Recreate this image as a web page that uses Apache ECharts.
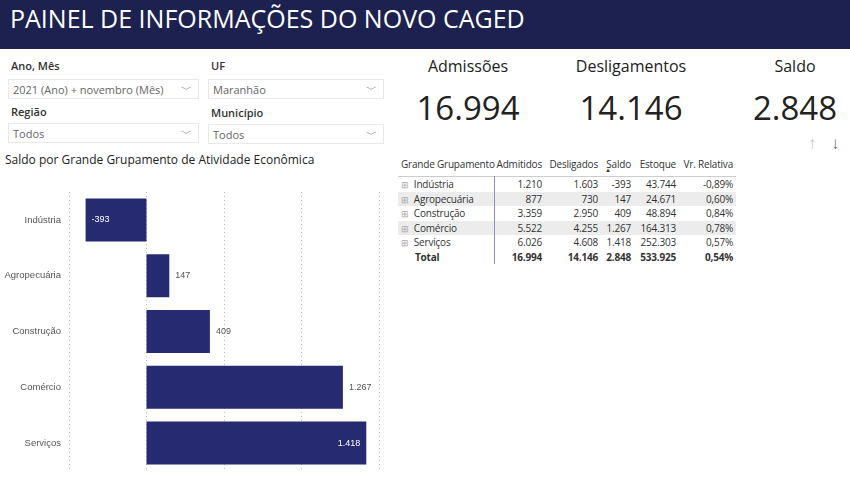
<!DOCTYPE html>
<html><head><meta charset="utf-8">
<script src="https://cdn.jsdelivr.net/npm/echarts@6/dist/echarts.min.js"></script>
<style>
body{margin:0;width:850px;height:487px;position:relative;background:#fff;font-family:"Open Sans","Noto Sans",sans-serif;overflow:hidden}
.a{position:absolute;white-space:nowrap}
#hdr{left:0;top:0;width:850px;height:49px;background:#1c2150;color:#fff;font-size:25px;line-height:36px;padding-left:10px;box-sizing:border-box}
.lbl{font-size:11px;font-weight:600;color:#333}
.box{height:20px;border:1px solid #e8e8e8;font-size:11px;color:#666;line-height:20px;padding-left:4px;box-sizing:border-box}
.box span{position:absolute;right:6px;top:-1px;color:#888}
.kt{font-size:16px;color:#222;transform:translateX(-50%)}
.kv{font-size:33px;color:#222;transform:translateX(-50%)}
table{border-collapse:collapse;table-layout:fixed;font-size:10px;color:#333;letter-spacing:-0.2px}
td{padding:0 3px 0 0;height:14.5px;text-align:right;overflow:visible;white-space:nowrap}
td:first-child{text-align:left;padding-left:3px}
</style></head><body>
<div id="hdr" class="a">PAINEL DE INFORMAÇÕES DO NOVO CAGED</div>
<div class="a lbl" style="left:11px;top:58px">Ano, Mês</div>
<div class="a box" style="left:8px;top:79px;width:191px">2021 (Ano) + novembro (Mês)<span>﹀</span></div>
<div class="a lbl" style="left:11px;top:104px">Região</div>
<div class="a box" style="left:8px;top:123px;width:191px">Todos<span>﹀</span></div>
<div class="a lbl" style="left:211px;top:58px">UF</div>
<div class="a box" style="left:208px;top:79px;width:176px">Maranhão<span>﹀</span></div>
<div class="a lbl" style="left:211px;top:105px">Município</div>
<div class="a box" style="left:208px;top:124px;width:176px">Todos<span>﹀</span></div>
<div class="a" style="left:5px;top:151px;font-size:12px;color:#222">Saldo por Grande Grupamento de Atividade Econômica</div>
<div class="a kt" style="left:468px;top:55px">Admissões</div>
<div class="a kt" style="left:631px;top:55px">Desligamentos</div>
<div class="a kt" style="left:795px;top:55px">Saldo</div>
<div class="a kv" style="left:468px;top:85px">16.994</div>
<div class="a kv" style="left:631px;top:85px">14.146</div>
<div class="a kv" style="left:795px;top:85px">2.848</div>
<div class="a" style="left:808px;top:131px;font-size:17px;color:#c8c8c8">↑</div>
<div class="a" style="left:831px;top:131px;font-size:17px;color:#777">↓</div>
<div class="a" style="left:398px;top:152px" id="tbl"></div>
<div id="c" class="a" style="left:0;top:160px;width:420px;height:327px"></div>
<script>
var categories=["Indústria","Agropecuária","Construção","Comércio","Serviços"];
var saldo=[-393,147,409,1267,1418];
var admitidos=["1.210","877","3.359","5.522","6.026"];
var desligados=["1.603","730","2.950","4.255","4.608"];
var saldoTxt=["-393","147","409","1.267","1.418"];
var estoque=["43.744","24.671","48.894","164.313","252.303"];
var vr=["-0,89%","0,60%","0,84%","0,78%","0,57%"];
var total=["16.994","14.146","2.848","533.925","0,54%"];
var w=[96,51,56,33,45,57];
var h='<table style="width:338px"><colgroup>'+w.map(function(x){return '<col style="width:'+x+'px">'}).join('')+'</colgroup>';
h+='<tr style="border-bottom:1px solid #ccc"><td style="height:24px">Grande Grupamento</td><td>Admitidos</td><td>Desligados</td><td style="position:relative">Saldo<span style="position:absolute;left:4px;top:14px;font-size:6px">▲</span></td><td>Estoque</td><td>Vr. Relativa</td></tr>';
for(var i=0;i<categories.length;i++){
 h+='<tr style="background:'+(i%2?'#ececec':'#fff')+'"><td style="border-right:1.5px solid #8a8fc0"><span style="color:#aaa;font-size:9px;margin-right:5px">⊞</span>'+categories[i]+'</td><td>'+admitidos[i]+'</td><td>'+desligados[i]+'</td><td>'+saldoTxt[i]+'</td><td>'+estoque[i]+'</td><td>'+vr[i]+'</td></tr>';
}
h+='<tr style="font-weight:bold"><td style="border-right:1.5px solid #8a8fc0;padding-left:17px">Total</td>';
total.forEach(function(t){h+='<td>'+t+'</td>'});
h+='</tr></table>';
document.getElementById('tbl').innerHTML=h;
var chart=echarts.init(document.getElementById('c'));
var data=saldo.map(function(v,i){
 var d={value:v};
 if(i===0)d.label={position:'insideLeft',color:'#fff'};
 if(i===4)d.label={position:'insideRight',color:'#fff'};
 return d;});
chart.setOption({
 animation:false,
 grid:{left:69,right:41,top:32,bottom:16},
 xAxis:{type:'value',min:-500,max:1500,interval:500,axisLabel:{show:false},axisLine:{show:false},axisTick:{show:false},
  splitLine:{lineStyle:{type:[1,3],color:'#bbb'}}},
 yAxis:{type:'category',inverse:true,data:categories,axisLine:{show:false},axisTick:{show:false},
  axisLabel:{color:'#555',fontSize:9.5,margin:8}},
 series:[{type:'bar',data:data,barWidth:43,itemStyle:{color:'#262A70'},
  label:{show:true,position:'right',color:'#555',fontSize:9,distance:6,
   formatter:function(p){return p.value.toLocaleString('de-DE')}}}]
});
</script>
</body></html>
